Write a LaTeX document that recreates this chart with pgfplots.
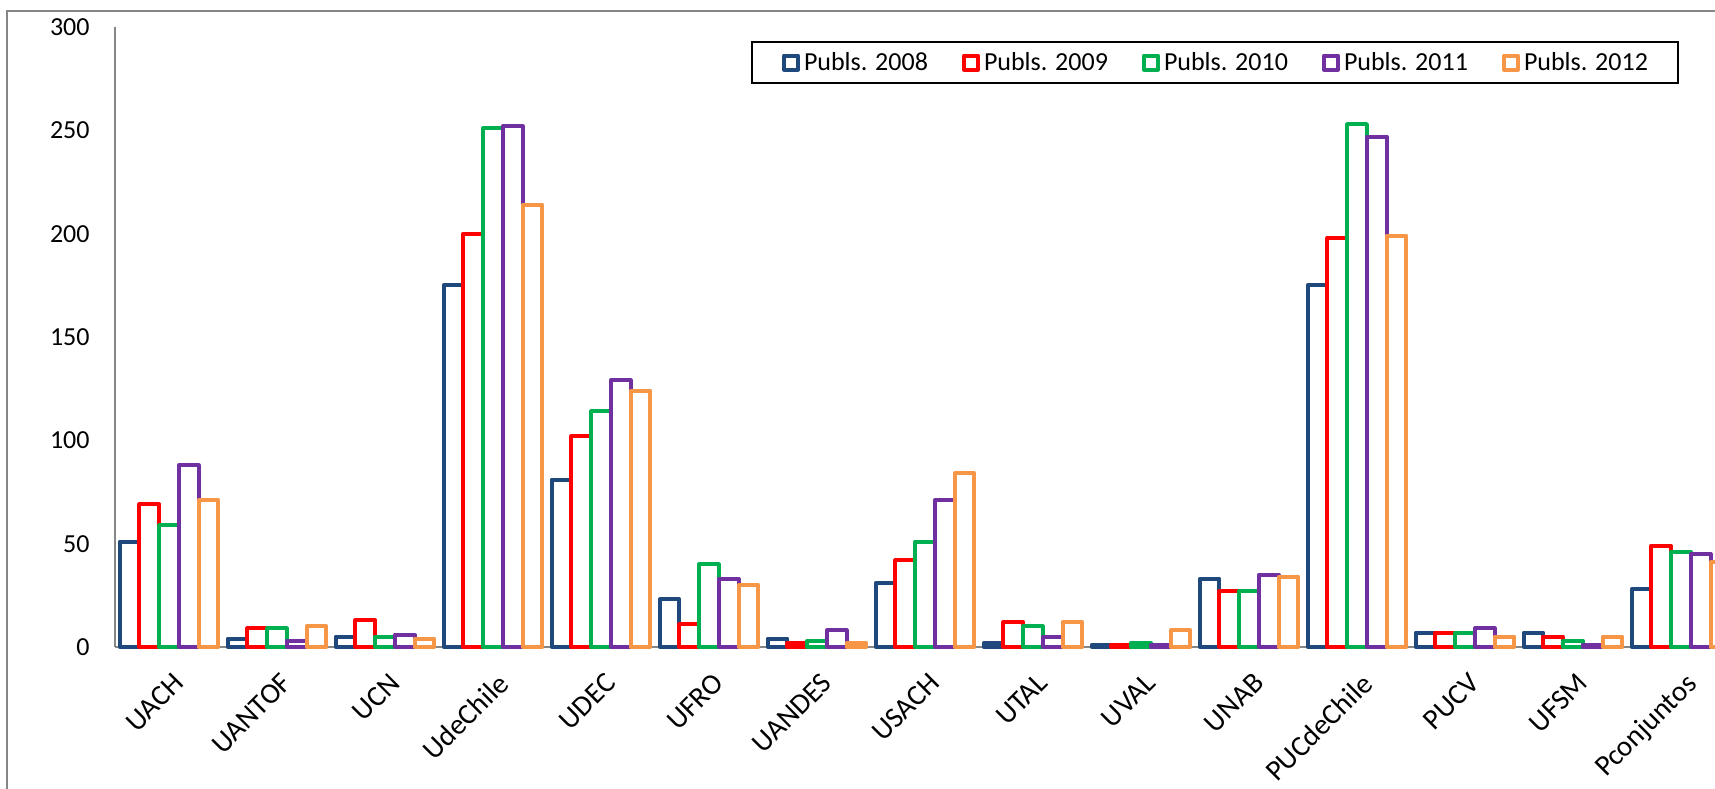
\documentclass[border=0pt]{standalone}
\usepackage{pgfplots}
\pgfplotsset{compat=1.18}
\usepackage{fontspec}
\setmainfont{Carlito}
\definecolor{cA}{HTML}{1F497D}
\definecolor{cB}{HTML}{FF0000}
\definecolor{cC}{HTML}{00B050}
\definecolor{cD}{HTML}{7030A0}
\definecolor{cE}{HTML}{F79646}
\definecolor{axgray}{HTML}{868686}
\begin{document}
\begin{tikzpicture}
\useasboundingbox (0,0) rectangle (857.5pt,394pt);
\clip (0,0) rectangle (857.5pt,394pt);
\fill[white] (0,0) rectangle (857.5pt,394pt);
\draw[axgray, line width=0.7pt] (900pt,388.5pt) -- (3.5pt,388.5pt) -- (3.5pt,-20pt);
\begin{axis}[
  at={(57.5pt,70.5pt)}, anchor=south west,
  scale only axis, width=810pt, height=310pt,
  xmin=-0.5, xmax=14.5, ymin=0, ymax=300,
  axis x line=bottom, axis y line=left,
  x axis line style={-, draw=axgray, line width=1pt},
  y axis line style={-, draw=axgray, line width=0.65pt},
  major tick length=0pt,
  ytick={0,50,...,300},
  xtick={0,...,14},
  xticklabels={UACH,UANTOF,UCN,UdeChile,UDEC,UFRO,UANDES,USACH,UTAL,UVAL,UNAB,PUCdeChile,PUCV,UFSM,Pconjuntos},
  /pgf/number format/assume math mode=true,
  ticklabel style={font=\fontsize{13}{15}\selectfont, inner sep=0pt},
  yticklabel style={anchor=east, xshift=-12.5pt},
  xticklabel style={font=\fontsize{14.5}{16}\selectfont, xshift=1.5pt, yshift=-12pt, rotate=45, anchor=north east},
  ybar, bar width=9.85pt,
  every axis plot/.append style={line width=2pt, fill=white, line join=round},
  legend columns=5,
  legend image code/.code={\draw[#1, line width=2pt, fill=white] (0pt,-3.5pt) rectangle (7pt,3.5pt);},
  legend style={at={(0.3926,0.9774)}, anchor=north west, draw=black, line width=1pt,
    font=\fontsize{13}{15}\selectfont, inner xsep=15pt, inner ysep=5pt,
    nodes={inner sep=0pt},
    /tikz/every odd column/.append style={column sep=2pt},
    /tikz/every even column/.append style={column sep=17pt}},
  clip=false,
]
\addplot[draw=cA, bar shift=-19.7pt] coordinates {(0,51)(1,4)(2,5)(3,175)(4,81)(5,23)(6,4)(7,31)(8,2)(9,1)(10,33)(11,175)(12,7)(13,7)(14,28)};
\addplot[draw=cB, bar shift=-9.85pt] coordinates {(0,69)(1,9)(2,13)(3,200)(4,102)(5,11)(6,2)(7,42)(8,12)(9,1)(10,27)(11,198)(12,7)(13,5)(14,49)};
\addplot[draw=cC, bar shift=0pt] coordinates {(0,59)(1,9)(2,5)(3,251)(4,114)(5,40)(6,3)(7,51)(8,10)(9,2)(10,27)(11,253)(12,7)(13,3)(14,46)};
\addplot[draw=cD, bar shift=9.85pt] coordinates {(0,88)(1,3)(2,6)(3,252)(4,129)(5,33)(6,8)(7,71)(8,5)(9,1)(10,35)(11,247)(12,9)(13,1)(14,45)};
\addplot[draw=cE, bar shift=19.7pt] coordinates {(0,71)(1,10)(2,4)(3,214)(4,124)(5,30)(6,2)(7,84)(8,12)(9,8)(10,34)(11,199)(12,5)(13,5)(14,41)};
\legend{Publs. 2008,Publs. 2009,Publs. 2010,Publs. 2011,Publs. 2012}
\end{axis}
\end{tikzpicture}
\end{document}
